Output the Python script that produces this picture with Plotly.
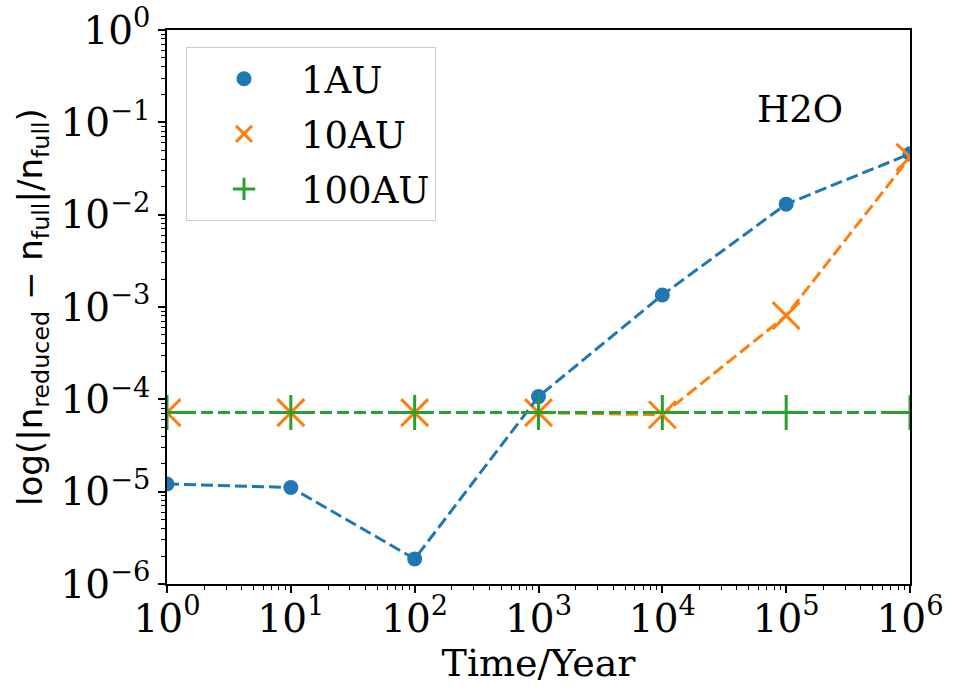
import plotly.graph_objects as go

# Data
time_years = [1, 10, 100, 1e3, 1e4, 1e5, 1e6]
err_1au = [1.21e-5, 1.11e-5, 1.87e-6, 1.07e-4, 1.35e-3, 1.30e-2, 4.56e-2]
err_10au = [7.18e-5, 7.18e-5, 7.18e-5, 7.18e-5, 6.8e-5, 8.07e-4, 4.19e-2]
err_100au = [7.18e-5, 7.18e-5, 7.18e-5, 7.18e-5, 7.18e-5, 7.18e-5, 7.18e-5]
series_names = ["1AU", "10AU", "100AU"]

x_tickvals = [1, 10, 100, 1e3, 1e4, 1e5, 1e6]
x_ticktext = ["10<sup>0</sup>", "10<sup>1</sup>", "10<sup>2</sup>", "10<sup>3</sup>",
              "10<sup>4</sup>", "10<sup>5</sup>", "10<sup>6</sup>"]
y_tickvals = [1e-6, 1e-5, 1e-4, 1e-3, 1e-2, 1e-1, 1]
y_ticktext = ["10<sup>−6</sup>", "10<sup>−5</sup>", "10<sup>−4</sup>", "10<sup>−3</sup>",
              "10<sup>−2</sup>", "10<sup>−1</sup>", "10<sup>0</sup>"]

BLUE, ORANGE, GREEN = "#1f77b4", "#ff7f0e", "#2ca02c"
SERIF = "DejaVu Serif"
SANS = "DejaVu Sans"
DASH = "12px,5px"

fig = go.Figure()

# markers (shown in legend)
fig.add_trace(go.Scatter(x=time_years, y=err_1au, mode="markers", name=series_names[0],
                         legendgroup="g1",
                         marker=dict(symbol="circle", size=15, color=BLUE)))
fig.add_trace(go.Scatter(x=time_years, y=err_10au, mode="markers", name=series_names[1],
                         legendgroup="g2",
                         marker=dict(symbol="x-thin", size=27, color=ORANGE,
                                     line=dict(color=ORANGE, width=3))))
fig.add_trace(go.Scatter(x=time_years, y=err_100au, mode="markers", name=series_names[2],
                         legendgroup="g3",
                         marker=dict(symbol="cross-thin", size=25, color=GREEN,
                                     line=dict(color=GREEN, width=3))))
# dashed lines
for ys, c in [(err_1au, BLUE), (err_10au, ORANGE), (err_100au, GREEN)]:
    fig.add_trace(go.Scatter(x=time_years, y=ys, mode="lines", showlegend=False,
                             line=dict(color=c, width=3, dash=DASH), hoverinfo="skip"))

minor_x = [k * 10 ** n for n in range(0, 6) for k in range(2, 10)]
minor_y = [k * 10.0 ** n for n in range(-6, 0) for k in range(2, 10)]

axis_common = dict(showline=True, linecolor="black", linewidth=1.5, mirror=True,
                   ticks="outside", ticklen=7, tickwidth=1.5, tickcolor="black",
                   showgrid=False, zeroline=False,
                   tickfont=dict(family=SERIF, size=39, color="black"))

fig.update_xaxes(type="log", range=[0, 6], tickmode="array", tickvals=x_tickvals,
                 ticktext=x_ticktext, ticklabelstandoff=-8,
                 minor=dict(ticks="outside", ticklen=4, tickwidth=1, tickcolor="black",
                            tickmode="array", tickvals=minor_x),
                 title=dict(text="Time/Year", font=dict(family=SERIF, size=38, color="black"),
                            standoff=0),
                 **axis_common)
fig.update_yaxes(type="log", range=[-6, 0], tickmode="array", tickvals=y_tickvals,
                 ticktext=y_ticktext,
                 minor=dict(ticks="outside", ticklen=4, tickwidth=1, tickcolor="black",
                            tickmode="array", tickvals=minor_y),
                 title=dict(text="log(|n<sub>reduced</sub> − n<sub>full</sub>|/n<sub>full</sub>)",
                            font=dict(family=SANS, size=34, color="black"), standoff=8),
                 **axis_common)

fig.add_annotation(x=0.852, y=0.857, xref="paper", yref="paper", text="H2O",
                   xanchor="center", yanchor="middle",
                   showarrow=False, font=dict(family=SERIF, size=37, color="black"))

fig.update_layout(
    width=960, height=695,
    margin=dict(l=167, r=50, t=30, b=111, autoexpand=False),
    paper_bgcolor="white", plot_bgcolor="white",
    legend=dict(x=0.0256, y=0.969, xanchor="left", yanchor="top",
                bgcolor="rgba(255,255,255,0.8)", bordercolor="#cccccc", borderwidth=1,
                font=dict(family=SERIF, size=37, color="black"),
                itemwidth=104, tracegroupgap=4),
    showlegend=True,
)

fig.write_html("out.html")
